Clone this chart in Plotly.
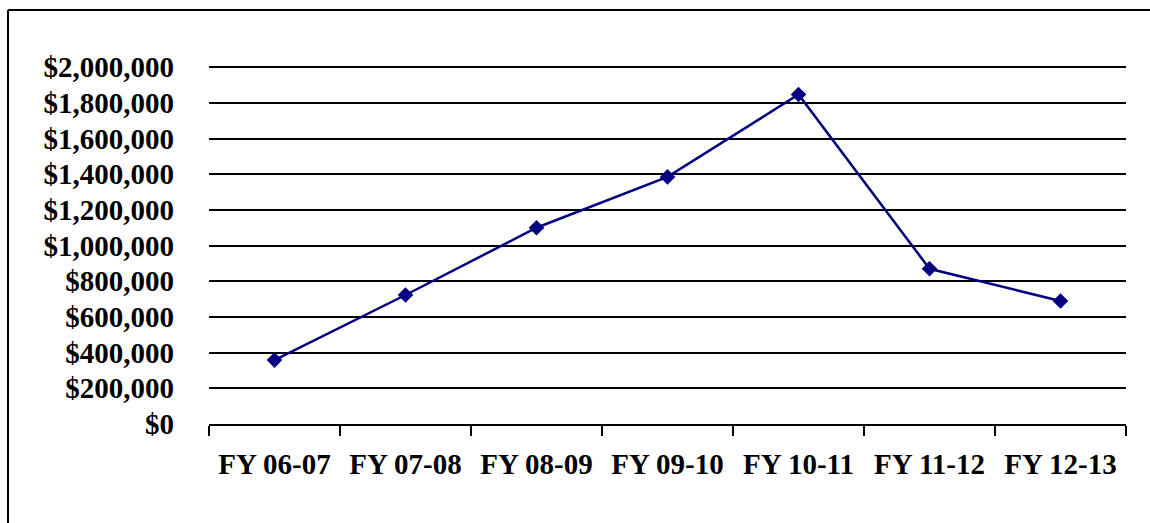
import plotly.graph_objects as go

# Annual totals by fiscal year
fiscal_years = ["FY 06-07", "FY 07-08", "FY 08-09", "FY 09-10", "FY 10-11", "FY 11-12", "FY 12-13"]
amounts = [358000, 723000, 1100000, 1385000, 1847000, 870000, 689000]

y_ticks = [0, 200000, 400000, 600000, 800000, 1000000, 1200000, 1400000, 1600000, 1800000, 2000000]
y_tick_labels = ["$0", "$200,000", "$400,000", "$600,000", "$800,000", "$1,000,000",
                 "$1,200,000", "$1,400,000", "$1,600,000", "$1,800,000", "$2,000,000"]

W, H = 1150, 523
L, R, T, B = 209, 24, 65, 99
pw, ph = W - L - R, H - T - B

font_family = "Liberation Serif, Times New Roman, serif"
tick_font = dict(family=font_family, size=29, color="black", weight="bold")

fig = go.Figure(
    go.Scatter(
        x=fiscal_years,
        y=amounts,
        mode="lines+markers",
        line=dict(color="#000080", width=2.5),
        marker=dict(symbol="diamond", size=12, color="#000080"),
        cliponaxis=False,
    )
)

fig.update_layout(
    width=W,
    height=H,
    margin=dict(l=L, r=R, t=T, b=B),
    paper_bgcolor="white",
    plot_bgcolor="white",
    showlegend=False,
    font=dict(family=font_family, color="black"),
)

fig.update_xaxes(
    type="category",
    range=[-0.5, 6.5],
    showgrid=False,
    showline=True,
    linecolor="black",
    linewidth=2,
    ticks="outside",
    tickson="boundaries",
    ticklen=10,
    tickwidth=2,
    tickcolor="black",
    ticklabelstandoff=13,
    tickfont=tick_font,
)

# headroom above the top tick keeps its gridline visible
fig.update_yaxes(
    range=[0, 2012000],
    tickvals=y_ticks,
    ticktext=y_tick_labels,
    showgrid=True,
    gridcolor="black",
    gridwidth=2,
    zeroline=False,
    showline=False,
    ticks="",
    ticklabelstandoff=34,
    tickfont=tick_font,
)

# Outer frame (left and top edges)
def px_to_paper_x(px):
    return (px - L) / pw

def px_to_paper_y(py):
    return (H - B - py) / ph

fig.add_shape(type="line", xref="paper", yref="paper",
              x0=px_to_paper_x(8), x1=px_to_paper_x(8),
              y0=px_to_paper_y(10), y1=px_to_paper_y(560),
              line=dict(color="black", width=2))
fig.add_shape(type="line", xref="paper", yref="paper",
              x0=px_to_paper_x(8), x1=px_to_paper_x(1200),
              y0=px_to_paper_y(10), y1=px_to_paper_y(10),
              line=dict(color="black", width=2))

fig.write_html("out.html")
